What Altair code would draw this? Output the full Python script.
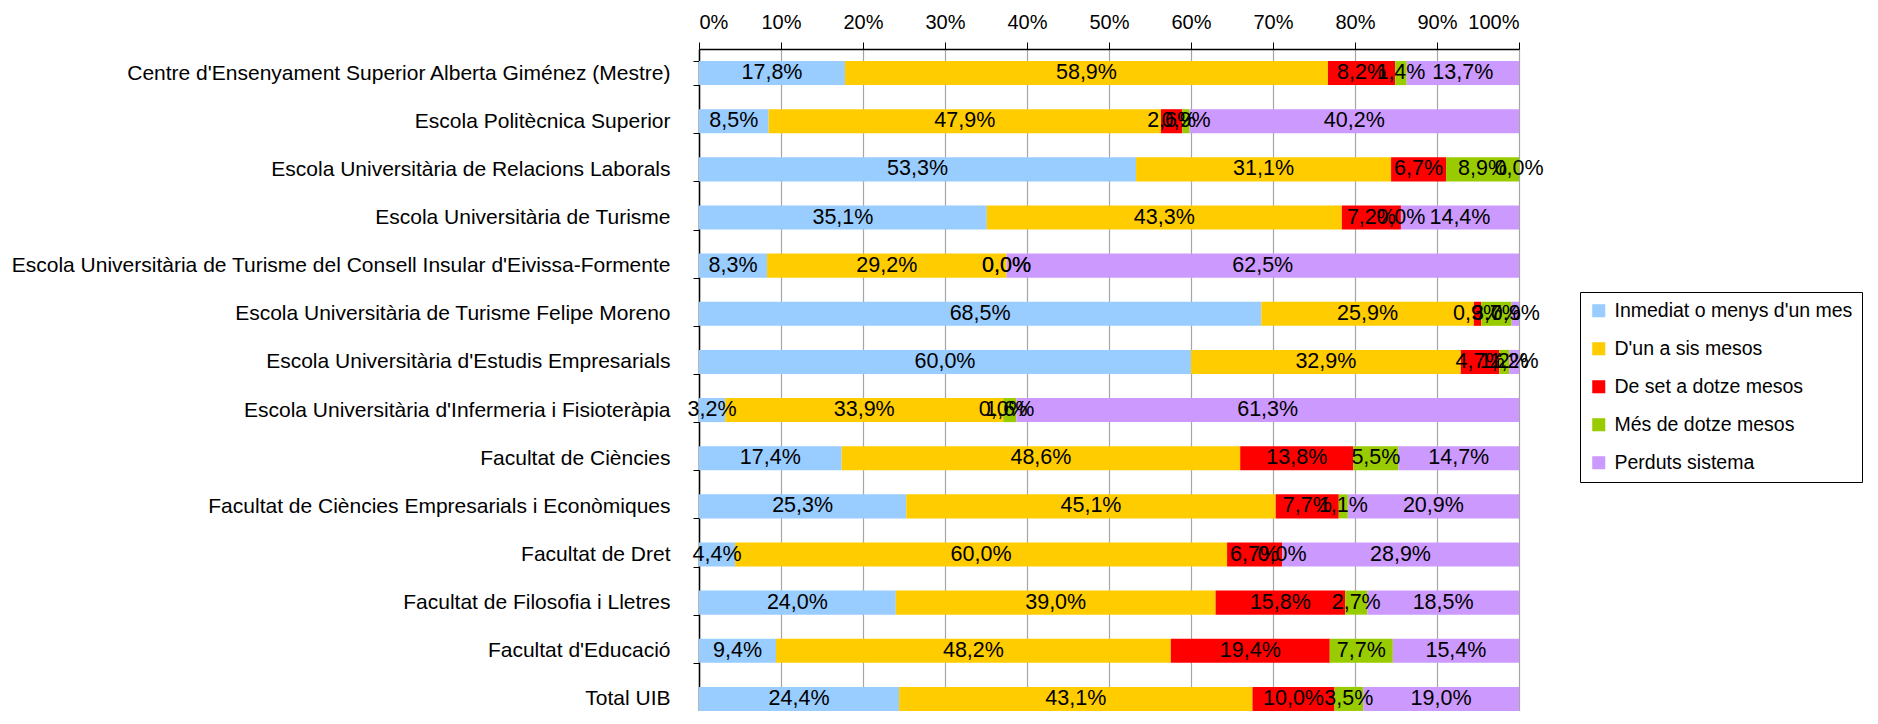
import altair as alt
import pandas as pd

categories = [
    "Centre d'Ensenyament Superior Alberta Giménez (Mestre)",
    "Escola Politècnica Superior",
    "Escola Universitària de Relacions Laborals",
    "Escola Universitària de Turisme",
    "Escola Universitària de Turisme del Consell Insular d'Eivissa-Formente",
    "Escola Universitària de Turisme Felipe Moreno",
    "Escola Universitària d'Estudis Empresarials",
    "Escola Universitària d'Infermeria i Fisioteràpia",
    "Facultat de Ciències",
    "Facultat de Ciències Empresarials i Econòmiques",
    "Facultat de Dret",
    "Facultat de Filosofia i Lletres",
    "Facultat d'Educació",
    "Total UIB",
]

series = [
    "Inmediat o menys d'un mes",
    "D'un a sis mesos",
    "De set a dotze mesos",
    "Més de dotze mesos",
    "Perduts sistema",
]
colors = ["#99CCFF", "#FFCC00", "#FF0000", "#99CC00", "#CC99FF"]

inmediat = [17.8, 8.5, 53.3, 35.1, 8.3, 68.5, 60.0, 3.2, 17.4, 25.3, 4.4, 24.0, 9.4, 24.4]
un_sis = [58.9, 47.9, 31.1, 43.3, 29.2, 25.9, 32.9, 33.9, 48.6, 45.1, 60.0, 39.0, 48.2, 43.1]
set_dotze = [8.2, 2.6, 6.7, 7.2, 0.0, 0.9, 4.7, 0.0, 13.8, 7.7, 6.7, 15.8, 19.4, 10.0]
mes_dotze = [1.4, 0.9, 8.9, 0.0, 0.0, 3.7, 1.2, 1.6, 5.5, 1.1, 0.0, 2.7, 7.7, 3.5]
perduts = [13.7, 40.2, 0.0, 14.4, 62.5, 0.9, 1.2, 61.3, 14.7, 20.9, 28.9, 18.5, 15.4, 19.0]

x_ticks = [0, 0.1, 0.2, 0.3, 0.4, 0.5, 0.6, 0.7, 0.8, 0.9, 1.0]

all_series = [inmediat, un_sis, set_dotze, mes_dotze, perduts]
rows = []
for i, c in enumerate(categories):
    for j, s in enumerate(series):
        v = all_series[j][i]
        rows.append({
            "cat": c,
            "serie": s,
            "order": j,
            "value": v,
            "label": f"{v:.1f}".replace(".", ",") + "%",
        })
df = pd.DataFrame(rows)

base = alt.Chart(df).transform_stack(
    stack="value",
    groupby=["cat"],
    as_=["x0", "x1"],
    offset="normalize",
    sort=[alt.SortField("order", order="ascending")],
).transform_calculate(mid="(datum.x0 + datum.x1) / 2")

y_enc = alt.Y(
    "cat:N",
    sort=categories,
    title=None,
    scale=alt.Scale(range=[0, 674], paddingInner=0.5, paddingOuter=0.25),
    axis=alt.Axis(
        orient="left",
        labelFontSize=21,
        labelColor="black",
        labelPadding=23,
        labelLimit=900,
        tickBand="extent",
        tickSize=6,
        tickColor="black",
        domainColor="black",
        domainWidth=1.5,
        grid=False,
    ),
)

bars = base.mark_bar().encode(
    x=alt.X(
        "x0:Q",
        title=None,
        scale=alt.Scale(domain=[0, 1], nice=False),
        axis=alt.Axis(
            orient="top",
            values=x_ticks,
            format=".0%",
            labelFontSize=20,
            labelColor="black",
            labelPadding=10,
            tickSize=7,
            tickColor="black",
            domainColor="black",
            domainWidth=1.5,
            grid=True,
            gridColor="#a6a6a6",
            gridWidth=1.2,
        ),
    ),
    x2="x1:Q",
    y=y_enc,
    color=alt.Color(
        "serie:N",
        scale=alt.Scale(domain=series, range=colors),
        legend=alt.Legend(
            orient="none",
            legendX=881,
            legendY=243,
            title=None,
            strokeColor="black",
            fillColor="white",
            padding=9,
            symbolType="square",
            symbolSize=170,
            symbolStrokeWidth=0,
            symbolOpacity=1,
            labelFontSize=19.5,
            labelColor="black",
            labelOffset=6,
            labelLimit=400,
            rowPadding=17,
        ),
    ),
)

text = base.mark_text(fontSize=21.5, color="black", align="center", baseline="middle").encode(
    x=alt.X("mid:Q"),
    y=alt.Y("cat:N", sort=categories),
    text="label:N",
)

chart = alt.layer(bars, text).properties(
    width=820,
    height=662,
    padding={"left": 691, "top": 41, "right": 351, "bottom": 0},
    autosize=alt.AutoSizeParams(type="none"),
).configure(font="Liberation Sans").configure_view(strokeWidth=0)

chart.save("out.html", embed_options={"renderer": "svg", "actions": False})
